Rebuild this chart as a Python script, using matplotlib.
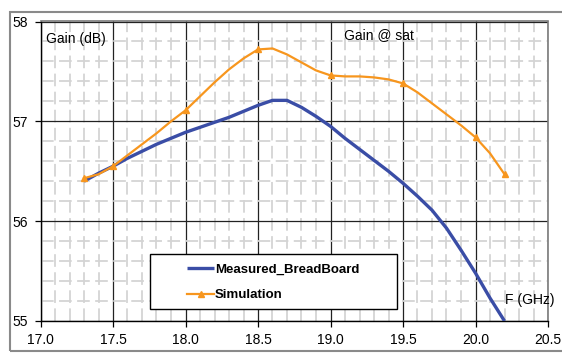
import matplotlib
matplotlib.use("Agg")
import matplotlib.pyplot as plt
from matplotlib.patches import Rectangle
from matplotlib.ticker import MultipleLocator

plt.rcParams['font.family'] = ['Liberation Sans', 'DejaVu Sans']

freq = [17.3, 17.4, 17.5, 17.6, 17.7, 17.8, 17.9, 18.0, 18.1, 18.2,
        18.3, 18.4, 18.5, 18.6, 18.7, 18.8, 18.9, 19.0, 19.1, 19.2,
        19.3, 19.4, 19.5, 19.6, 19.7, 19.8, 19.9, 20.0, 20.1, 20.2]
measured = [56.40, 56.48, 56.55, 56.63, 56.70, 56.77, 56.83, 56.89, 56.94, 56.99,
            57.04, 57.10, 57.16, 57.21, 57.21, 57.14, 57.05, 56.95, 56.83, 56.72,
            56.61, 56.50, 56.38, 56.25, 56.11, 55.93, 55.71, 55.48, 55.23, 55.00]
simulation = [56.43, 56.47, 56.55, 56.66, 56.77, 56.88, 57.00, 57.11, 57.25, 57.39,
              57.52, 57.63, 57.72, 57.73, 57.67, 57.59, 57.51, 57.46, 57.45, 57.45,
              57.44, 57.42, 57.38, 57.29, 57.18, 57.07, 56.96, 56.84, 56.68, 56.47]
sim_marker_idx = [0, 2, 7, 12, 17, 22, 27, 29]
series_names = ["Measured_BreadBoard", "Simulation"]
x_ticks = [17.0, 17.5, 18.0, 18.5, 19.0, 19.5, 20.0, 20.5]
y_ticks = [55, 56, 57, 58]

W, H = 562, 353
fig = plt.figure(figsize=(W / 100, H / 100), dpi=100)
fig.patch.set_facecolor('white')
# outer frame
fig.add_artist(Rectangle((10 / W, 2 / H), (W + 5) / W, 339 / H, transform=fig.transFigure,
                         fill=False, edgecolor='#8a8a8a', linewidth=1.5))

ax = fig.add_axes([40.5 / W, 1 - 321 / H, 507.5 / W, 299.5 / H])
ax.set_xlim(17.0, 20.5)
ax.set_ylim(55, 58)
ax.set_xticks(x_ticks)
ax.set_xticklabels([f"{v:.1f}" for v in x_ticks])
ax.set_yticks(y_ticks)
ax.set_yticklabels([str(v) for v in y_ticks])
ax.xaxis.set_minor_locator(MultipleLocator(0.1))
ax.yaxis.set_minor_locator(MultipleLocator(0.2))
ax.grid(which='minor', color='#d4d4d4', linewidth=1.3, linestyle=(0, (7, 3)))
ax.grid(which='major', color='#222222', linewidth=0.9)
ax.set_axisbelow(True)
ax.tick_params(which='major', length=4, width=0.9, colors='black', labelsize=10, pad=5)
ax.tick_params(which='minor', length=0)
for s in ['left', 'bottom']:
    ax.spines[s].set_color('black')
    ax.spines[s].set_linewidth(1.0)
for s in ['top', 'right']:
    ax.spines[s].set_color('#7a7a7a')
    ax.spines[s].set_linewidth(1.2)

ax.plot(freq, measured, color='#3A4DA6', linewidth=2.4, label=series_names[0], zorder=3,
        solid_capstyle='butt', solid_joinstyle='round')
ax.plot(freq, simulation, color='#F7961E', linewidth=1.6, marker='^', markersize=4.5,
        markevery=sim_marker_idx, label=series_names[1], zorder=3,
        solid_joinstyle='round')

ax.text(17.038, 57.82, "Gain (dB)", fontsize=10, va='center', ha='left')
ax.text(19.093, 57.86, "Gain @ sat", fontsize=10, va='center', ha='left')
ax.text(20.203, 55.21, "F (GHz)", fontsize=10, va='center', ha='left')

ax.add_patch(Rectangle((0.2158, 0.040), 0.487, 0.184, transform=ax.transAxes,
                       facecolor='white', edgecolor='black', linewidth=1.0, zorder=4))
leg = ax.legend(loc='center', bbox_to_anchor=(0.459, 0.128), frameon=False,
                prop={'weight': 'bold', 'size': 9.5}, handlelength=2.0,
                handletextpad=0.1, labelspacing=1.0, borderpad=0, borderaxespad=0)
leg.set_zorder(5)

fig.savefig("out.png", dpi=100)
